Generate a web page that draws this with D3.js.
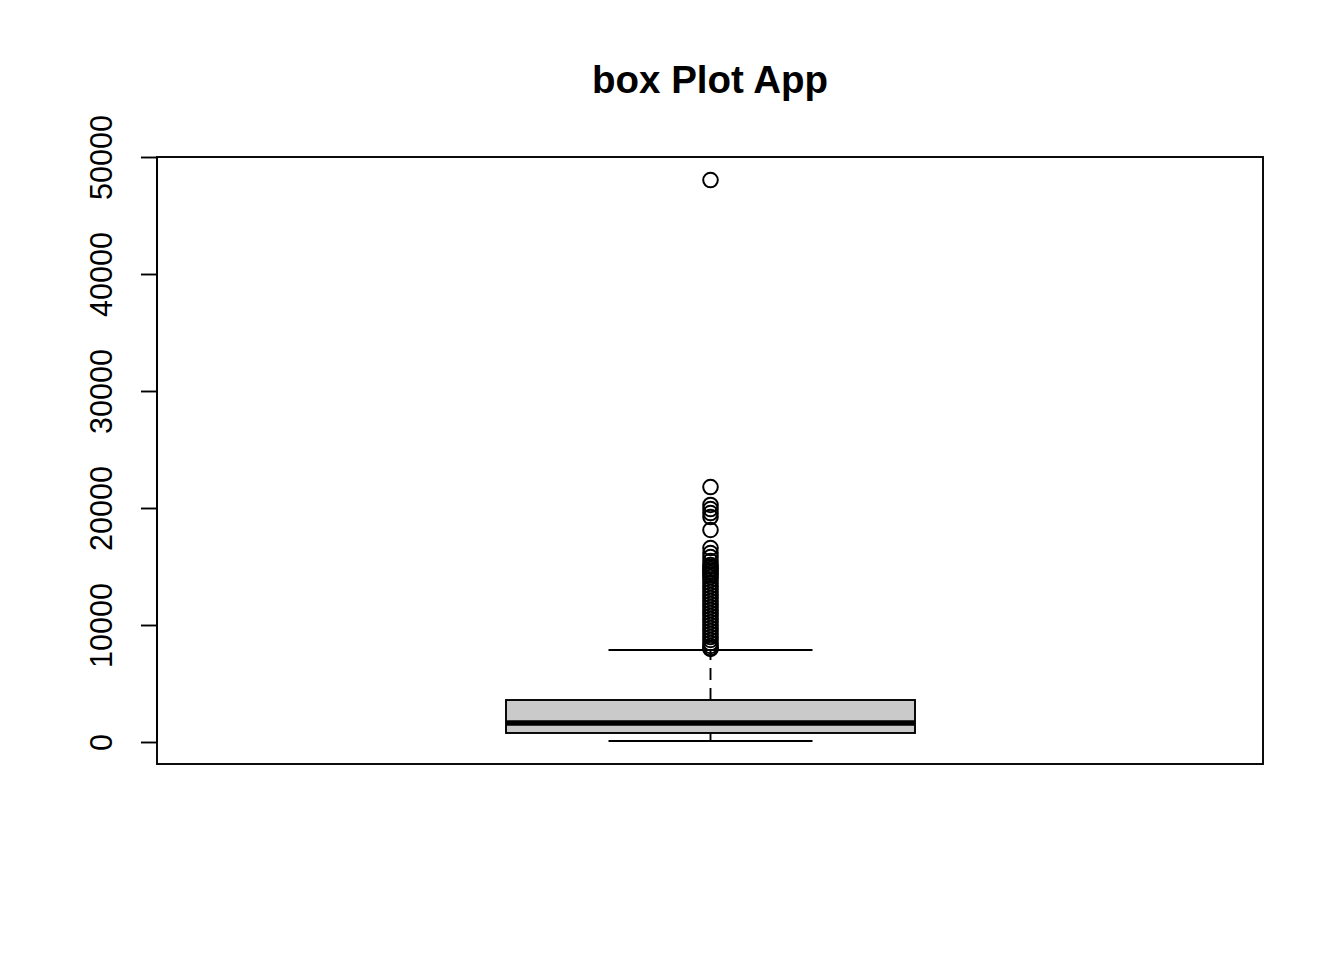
<!DOCTYPE html>
<html>
<head>
<meta charset="utf-8">
<script src="https://cdn.jsdelivr.net/npm/d3@7"></script>
<style>
  html, body { margin: 0; padding: 0; background: #fff; }
  svg { display: block; font-family: "Liberation Sans", Arial, Helvetica, sans-serif; }
</style>
</head>
<body>
<svg id="chart" width="1344" height="960"></svg>
<script>
// ---- data ----
const title = "box Plot App";
const yTicks = [0, 10000, 20000, 30000, 40000, 50000];
const stats = { lowerWhisker: 80, q1: 770, median: 1620, q3: 3590, upperWhisker: 7860 };
const outliers = [48030, 21790, 20260, 19910, 19570, 19230, 18120, 16580, 16150, 15810,
  15470, 15130, 14960, 14790, 14620, 14440, 14270, 14100, 13850, 13590, 13330, 13080,
  12820, 12560, 12310, 12050, 11790, 11540, 11280, 11030, 10770, 10510, 10260, 10000,
  9740, 9490, 9230, 8970, 8720, 8460, 8210, 8030, 7950];

// ---- layout ----
const svg = d3.select("#chart");
const plot = { left: 157, right: 1263, top: 157, bottom: 764 };
const lw = 1.9;

const y = d3.scaleLinear().domain([0, 50000]).range([742, 157]);
const x = d3.scaleLinear().domain([0.5, 1.5]).range([plot.left + 1, plot.right]);
const xc = x(1);
const boxHalf = 204.5;
const wHalf = 102;

// title
svg.append("text")
  .attr("x", 710).attr("y", 93)
  .attr("text-anchor", "middle")
  .attr("font-weight", "bold")
  .attr("font-size", 38.5)
  .text(title);

// plot frame
svg.append("rect")
  .attr("x", plot.left).attr("y", plot.top)
  .attr("width", plot.right - plot.left).attr("height", plot.bottom - plot.top)
  .attr("fill", "none").attr("stroke", "#000").attr("stroke-width", lw);

// y axis
const axis = d3.axisLeft(y).tickValues(yTicks).tickSize(16).tickPadding(0).tickFormat(d3.format("d"));
const gAxis = svg.append("g").attr("transform", `translate(${plot.left},0)`).call(axis);
gAxis.select(".domain").attr("stroke", "#000").attr("stroke-width", lw)
  .attr("d", `M0,${y(0)}V${y(50000)}`);
gAxis.selectAll(".tick line").attr("stroke", "#000").attr("stroke-width", lw);
gAxis.selectAll(".tick text")
  .attr("fill", "#000")
  .attr("font-size", 30.5)
  .attr("font-family", "Liberation Sans, Arial, sans-serif")
  .attr("transform", "translate(-45,0) rotate(-90)")
  .attr("x", 0).attr("y", 0)
  .attr("dy", "0")
  .attr("text-anchor", "middle");

const g = svg.append("g");

// whiskers (dashed)
g.append("line")
  .attr("x1", xc).attr("x2", xc)
  .attr("y1", y(stats.q3)).attr("y2", y(stats.upperWhisker))
  .attr("stroke", "#000").attr("stroke-width", lw).attr("stroke-dasharray", "12,8");
g.append("line")
  .attr("x1", xc).attr("x2", xc)
  .attr("y1", y(stats.q1)).attr("y2", y(stats.lowerWhisker))
  .attr("stroke", "#000").attr("stroke-width", lw).attr("stroke-dasharray", "12,8");
// whisker caps
[stats.upperWhisker, stats.lowerWhisker].forEach(v => {
  g.append("line")
    .attr("x1", xc - wHalf).attr("x2", xc + wHalf)
    .attr("y1", y(v)).attr("y2", y(v))
    .attr("stroke", "#000").attr("stroke-width", lw);
});

// box
g.append("rect")
  .attr("x", xc - boxHalf).attr("width", 2 * boxHalf)
  .attr("y", y(stats.q3)).attr("height", y(stats.q1) - y(stats.q3))
  .attr("fill", "#cacaca").attr("stroke", "#000").attr("stroke-width", lw);
// median
g.append("line")
  .attr("x1", xc - boxHalf).attr("x2", xc + boxHalf)
  .attr("y1", y(stats.median)).attr("y2", y(stats.median))
  .attr("stroke", "#000").attr("stroke-width", 5.5);

// outliers
g.selectAll("circle.out").data(outliers).enter().append("circle")
  .attr("class", "out")
  .attr("cx", xc).attr("cy", d => y(d)).attr("r", 7.3)
  .attr("fill", "none").attr("stroke", "#000").attr("stroke-width", 2);
</script>
</body>
</html>
